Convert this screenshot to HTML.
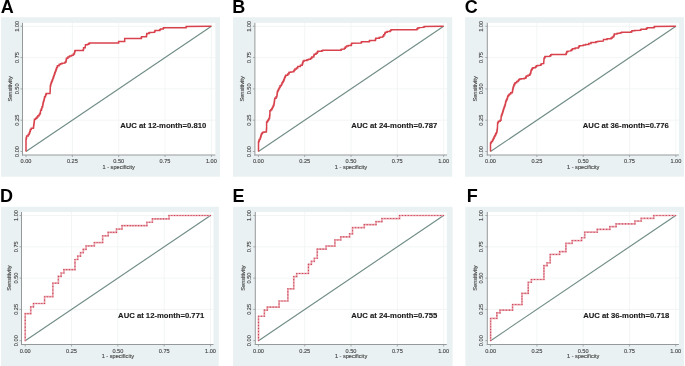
<!DOCTYPE html>
<html><head><meta charset="utf-8"><title>ROC curves</title>
<style>
html,body{margin:0;padding:0;background:#fff;}
body{width:685px;height:366px;overflow:hidden;}
svg{display:block;will-change:transform;}
.t{font-family:"Liberation Sans",sans-serif;font-size:5.6px;fill:#4a4a4a;stroke:#4a4a4a;stroke-width:0.14px;}
.auc{font-family:"Liberation Sans",sans-serif;font-size:7.7px;font-weight:bold;fill:#1a1a1a;stroke:#1a1a1a;stroke-width:0.12px;}
.L{font-family:"Liberation Sans",sans-serif;font-size:18px;font-weight:bold;fill:#000;}
</style></head><body>
<svg width="685" height="366" viewBox="0 0 685 366">
<rect x="0" y="0" width="685" height="366" fill="#ffffff"/>
<g><rect x="1.1" y="17.2" width="218.9" height="159.5" fill="#EAF1F2"/><rect x="22.5" y="22.9" width="192.8" height="132.1" fill="#ffffff"/><line x1="23" y1="120.2" x2="215.3" y2="120.2" stroke="#F0F2F2" stroke-width="0.8"/><line x1="23" y1="88.9" x2="215.3" y2="88.9" stroke="#F0F2F2" stroke-width="0.8"/><line x1="23" y1="57.6" x2="215.3" y2="57.6" stroke="#F0F2F2" stroke-width="0.8"/><line x1="23" y1="26.3" x2="215.3" y2="26.3" stroke="#F0F2F2" stroke-width="0.8"/><line x1="72.35" y1="22.9" x2="72.35" y2="154.5" stroke="#F0F2F2" stroke-width="0.8"/><line x1="118.7" y1="22.9" x2="118.7" y2="154.5" stroke="#F0F2F2" stroke-width="0.8"/><line x1="165.05" y1="22.9" x2="165.05" y2="154.5" stroke="#F0F2F2" stroke-width="0.8"/><line x1="211.4" y1="22.9" x2="211.4" y2="154.5" stroke="#F0F2F2" stroke-width="0.8"/><line x1="22.5" y1="22.9" x2="22.5" y2="155.5" stroke="#96999A" stroke-width="1"/><line x1="22" y1="155" x2="215.3" y2="155" stroke="#96999A" stroke-width="1"/><line x1="20.5" y1="151.5" x2="22.5" y2="151.5" stroke="#96999A" stroke-width="0.8"/><line x1="26" y1="155" x2="26" y2="157" stroke="#96999A" stroke-width="0.8"/><line x1="20.5" y1="120.2" x2="22.5" y2="120.2" stroke="#96999A" stroke-width="0.8"/><line x1="72.35" y1="155" x2="72.35" y2="157" stroke="#96999A" stroke-width="0.8"/><line x1="20.5" y1="88.9" x2="22.5" y2="88.9" stroke="#96999A" stroke-width="0.8"/><line x1="118.7" y1="155" x2="118.7" y2="157" stroke="#96999A" stroke-width="0.8"/><line x1="20.5" y1="57.6" x2="22.5" y2="57.6" stroke="#96999A" stroke-width="0.8"/><line x1="165.05" y1="155" x2="165.05" y2="157" stroke="#96999A" stroke-width="0.8"/><line x1="20.5" y1="26.3" x2="22.5" y2="26.3" stroke="#96999A" stroke-width="0.8"/><line x1="211.4" y1="155" x2="211.4" y2="157" stroke="#96999A" stroke-width="0.8"/><text x="26" y="163.4" text-anchor="middle" class="t">0.00</text><text transform="translate(18.5,151.5) rotate(-90)" x="0" y="0" text-anchor="middle" class="t">0.00</text><text x="72.35" y="163.4" text-anchor="middle" class="t">0.25</text><text transform="translate(18.5,120.2) rotate(-90)" x="0" y="0" text-anchor="middle" class="t">0.25</text><text x="118.7" y="163.4" text-anchor="middle" class="t">0.50</text><text transform="translate(18.5,88.9) rotate(-90)" x="0" y="0" text-anchor="middle" class="t">0.50</text><text x="165.05" y="163.4" text-anchor="middle" class="t">0.75</text><text transform="translate(18.5,57.6) rotate(-90)" x="0" y="0" text-anchor="middle" class="t">0.75</text><text x="211.4" y="163.4" text-anchor="middle" class="t">1.00</text><text transform="translate(18.5,26.3) rotate(-90)" x="0" y="0" text-anchor="middle" class="t">1.00</text><text x="118.7" y="168.6" text-anchor="middle" class="t">1 - specificity</text><text transform="translate(11.9,88.9) rotate(-90)" x="0" y="0" text-anchor="middle" class="t">Sensitivity</text><line x1="26" y1="151.5" x2="211.4" y2="26.3" stroke="#718D87" stroke-width="1.15"/><polyline points="26,151.4 26,140 26,139.22 26.3,139.22 26.3,137.68 26.6,137.68 26.6,136.9 26.6,136.1 28.2,136.1 28.2,135.3 28.2,134.55 29.2,134.55 29.2,133.8 29.2,133 29.75,133 29.75,131.4 30.3,131.4 30.3,130.6 30.3,129.6 31.3,129.6 31.3,128.6 31.3,128.3 33.4,128.3 33.4,128 33.4,127.4 33.57,127.4 33.57,126.2 33.73,126.2 33.73,125 33.9,125 33.9,124.4 33.9,123.63 34.1,123.63 34.1,122.1 34.3,122.1 34.3,120.57 34.5,120.57 34.5,119.8 34.5,119.3 35.7,119.3 35.7,118.8 35.7,118.15 36.9,118.15 36.9,117.5 36.9,116.9 37.9,116.9 37.9,116.3 37.9,115.8 39.1,115.8 39.1,115.3 39.1,114.6 39.9,114.6 39.9,113.9 39.9,113.15 40.4,113.15 40.4,112.4 40.6,110.9 40.6,110.15 41.4,110.15 41.4,109.4 41.4,108.65 41.9,108.65 41.9,107.9 41.9,107.05 42.6,107.05 42.6,106.2 42.6,105.57 42.83,105.57 42.83,104.3 43.07,104.3 43.07,103.03 43.3,103.03 43.3,102.4 43.3,101.73 43.7,101.73 43.7,100.38 44.1,100.38 44.1,99.7 44.1,99.15 44.35,99.15 44.35,98.05 44.6,98.05 44.6,97.5 44.6,96.65 45.5,96.65 45.5,95.8 45.5,95.25 45.9,95.25 45.9,94.15 46.3,94.15 46.3,93.6 46.3,93.4 50,93.4 50,93.2 50.2,90.4 50.3,87 50.3,86 50.6,86 50.6,85 50.6,84.4 51,84.4 51,83.2 51.4,83.2 51.4,82.6 51.4,82.05 51.85,82.05 51.85,80.95 52.3,80.95 52.3,80.4 52.3,79.65 52.85,79.65 52.85,78.15 53.4,78.15 53.4,77.4 53.4,76.75 53.85,76.75 53.85,75.45 54.3,75.45 54.3,74.8 54.3,74.15 54.75,74.15 54.75,72.85 55.2,72.85 55.2,72.2 55.2,71.45 55.8,71.45 55.8,70.7 55.8,70.12 56.2,70.12 56.2,68.98 56.6,68.98 56.6,68.4 56.6,67.45 57.4,67.45 57.4,66.5 57.4,65.7 59.1,65.7 59.1,64.9 59.1,64.5 60.5,64.5 60.5,64.1 60.5,63.7 62,63.7 62,63.3 64.9,63 64.9,62.3 65.9,62.3 65.9,61.6 65.9,60.88 66.2,60.88 66.2,59.43 66.5,59.43 66.5,58.7 66.5,58.2 67.9,58.2 67.9,57.7 67.9,57.05 69.5,57.05 69.5,56.4 69.5,55.9 71.5,55.9 71.5,55.4 73.4,55.1 73.4,54.1 74.4,54.1 74.4,53.1 74.4,52.45 74.75,52.45 74.75,51.15 75.1,51.15 75.1,50.5 83.2,50.5 83.2,49.5 83.6,49.5 83.6,48.5 83.6,47.7 85.2,47.7 85.2,46.9 85.5,45 85.5,44.8 87.5,44.8 87.5,44.6 87.5,44.3 88.8,44.3 88.8,44 88.8,43.55 89.5,43.55 89.5,43.1 118.6,43.1 118.6,41.5 124.7,41.5 124.7,38.6 141.2,38.6 141.2,37.7 141.5,37.7 141.5,36.8 146.4,36.8 146.4,36.1 146.6,36.1 146.6,34.7 146.8,34.7 146.8,34 146.8,33.55 149,33.55 149,33.1 149,32.75 149.6,32.75 149.6,32.4 154.5,32.2 154.5,31.5 155,31.5 155,30.8 155,30.5 159.7,30.5 159.7,30.2 159.7,29.7 160.5,29.7 160.5,29.2 160.5,29 163.2,29 163.2,28.8 163.2,28.25 163.6,28.25 163.6,27.7 186,27.7 186,27.05 186.4,27.05 186.4,26.4 211.4,26.3" fill="none" stroke="#D8424C" stroke-width="1.5" stroke-linejoin="miter"/><text x="120.2" y="128" class="auc">AUC at 12-month=0.810</text><text x="0.8" y="12.6" class="L">A</text></g>
<g><rect x="233" y="17.2" width="219.2" height="159.5" fill="#EAF1F2"/><rect x="254.9" y="22.9" width="192.1" height="132.1" fill="#ffffff"/><line x1="255.4" y1="120.2" x2="447" y2="120.2" stroke="#F0F2F2" stroke-width="0.8"/><line x1="255.4" y1="88.9" x2="447" y2="88.9" stroke="#F0F2F2" stroke-width="0.8"/><line x1="255.4" y1="57.6" x2="447" y2="57.6" stroke="#F0F2F2" stroke-width="0.8"/><line x1="255.4" y1="26.3" x2="447" y2="26.3" stroke="#F0F2F2" stroke-width="0.8"/><line x1="304.7" y1="22.9" x2="304.7" y2="154.5" stroke="#F0F2F2" stroke-width="0.8"/><line x1="351" y1="22.9" x2="351" y2="154.5" stroke="#F0F2F2" stroke-width="0.8"/><line x1="397.3" y1="22.9" x2="397.3" y2="154.5" stroke="#F0F2F2" stroke-width="0.8"/><line x1="443.6" y1="22.9" x2="443.6" y2="154.5" stroke="#F0F2F2" stroke-width="0.8"/><line x1="254.9" y1="22.9" x2="254.9" y2="155.5" stroke="#96999A" stroke-width="1"/><line x1="254.4" y1="155" x2="447" y2="155" stroke="#96999A" stroke-width="1"/><line x1="252.9" y1="151.5" x2="254.9" y2="151.5" stroke="#96999A" stroke-width="0.8"/><line x1="258.4" y1="155" x2="258.4" y2="157" stroke="#96999A" stroke-width="0.8"/><line x1="252.9" y1="120.2" x2="254.9" y2="120.2" stroke="#96999A" stroke-width="0.8"/><line x1="304.7" y1="155" x2="304.7" y2="157" stroke="#96999A" stroke-width="0.8"/><line x1="252.9" y1="88.9" x2="254.9" y2="88.9" stroke="#96999A" stroke-width="0.8"/><line x1="351" y1="155" x2="351" y2="157" stroke="#96999A" stroke-width="0.8"/><line x1="252.9" y1="57.6" x2="254.9" y2="57.6" stroke="#96999A" stroke-width="0.8"/><line x1="397.3" y1="155" x2="397.3" y2="157" stroke="#96999A" stroke-width="0.8"/><line x1="252.9" y1="26.3" x2="254.9" y2="26.3" stroke="#96999A" stroke-width="0.8"/><line x1="443.6" y1="155" x2="443.6" y2="157" stroke="#96999A" stroke-width="0.8"/><text x="258.4" y="163.4" text-anchor="middle" class="t">0.00</text><text transform="translate(250.9,151.5) rotate(-90)" x="0" y="0" text-anchor="middle" class="t">0.00</text><text x="304.7" y="163.4" text-anchor="middle" class="t">0.25</text><text transform="translate(250.9,120.2) rotate(-90)" x="0" y="0" text-anchor="middle" class="t">0.25</text><text x="351" y="163.4" text-anchor="middle" class="t">0.50</text><text transform="translate(250.9,88.9) rotate(-90)" x="0" y="0" text-anchor="middle" class="t">0.50</text><text x="397.3" y="163.4" text-anchor="middle" class="t">0.75</text><text transform="translate(250.9,57.6) rotate(-90)" x="0" y="0" text-anchor="middle" class="t">0.75</text><text x="443.6" y="163.4" text-anchor="middle" class="t">1.00</text><text transform="translate(250.9,26.3) rotate(-90)" x="0" y="0" text-anchor="middle" class="t">1.00</text><text x="351" y="168.6" text-anchor="middle" class="t">1 - specificity</text><text transform="translate(244.3,88.9) rotate(-90)" x="0" y="0" text-anchor="middle" class="t">Sensitivity</text><line x1="258.4" y1="151.5" x2="443.6" y2="26.3" stroke="#718D87" stroke-width="1.15"/><polyline points="258.5,151.4 258.5,142.6 258.5,142.03 258.85,142.03 258.85,140.88 259.2,140.88 259.2,140.3 259.2,139.6 260.1,139.6 260.1,138.9 260.1,138.32 260.45,138.32 260.45,137.18 260.8,137.18 260.8,136.6 260.8,136 261.15,136 261.15,134.8 261.5,134.8 261.5,134.2 261.5,133.75 262.2,133.75 262.2,132.85 262.9,132.85 262.9,132.4 262.9,132.15 264.3,132.15 264.3,131.9 266.3,131.9 266.3,131.28 266.4,131.28 266.4,130.05 266.5,130.05 266.5,128.82 266.6,128.82 266.6,128.2 266.6,122.6 266.6,121.9 267.5,121.9 267.5,121.2 267.5,120.75 268.2,120.75 268.2,119.85 268.9,119.85 268.9,119.4 268.9,118.55 269.5,118.55 269.5,117.7 269.5,117.12 269.63,117.12 269.63,115.95 269.77,115.95 269.77,114.78 269.9,114.78 269.9,114.2 269.9,111.2 269.9,110.75 270.8,110.75 270.8,109.85 271.7,109.85 271.7,109.4 271.7,108.75 272.35,108.75 272.35,107.45 273,107.45 273,106.8 273,106.25 273.45,106.25 273.45,105.15 273.9,105.15 273.9,104.6 273.9,104.05 274.1,104.05 274.1,102.95 274.3,102.95 274.3,102.4 274.3,101.82 274.43,101.82 274.43,100.65 274.57,100.65 274.57,99.48 274.7,99.48 274.7,98.9 274.7,98.25 276.1,98.25 276.1,97.6 276.1,96.75 276.9,96.75 276.9,95.9 276.9,95.23 277.07,95.23 277.07,93.9 277.23,93.9 277.23,92.57 277.4,92.57 277.4,91.9 277.4,91.42 277.9,91.42 277.9,90.45 278.4,90.45 278.4,89.48 278.9,89.48 278.9,89 278.9,88.4 279.5,88.4 279.5,87.2 280.1,87.2 280.1,86.6 280.1,85.8 281.3,85.8 281.3,85 281.3,84.38 281.95,84.38 281.95,83.12 282.6,83.12 282.6,82.5 282.6,81.97 283.2,81.97 283.2,80.93 283.8,80.93 283.8,80.4 283.8,79.75 284.25,79.75 284.25,78.45 284.7,78.45 284.7,77.8 284.7,77.25 285.2,77.25 285.2,76.15 285.7,76.15 285.7,75.6 285.7,75.25 287.7,75.25 287.7,74.9 287.7,74.1 288.9,74.1 288.9,73.3 288.9,72.85 289.2,72.85 289.2,72.4 289.2,72.2 290.9,72.2 290.9,72 293.2,71.9 293.2,71.45 294,71.45 294,71 294,70.2 294.9,70.2 294.9,69.4 294.9,69 296.5,69 296.5,68.6 296.5,67.95 297.7,67.95 297.7,67.3 297.7,66.55 300.4,66.55 300.4,65.8 300.4,65.2 302.2,65.2 302.2,64.6 302.2,63.92 302.65,63.92 302.65,62.57 303.1,62.57 303.1,61.9 303.1,61.3 304,61.3 304,60.7 304,60.4 307,60.4 307,60.1 307,59.8 308.5,59.8 308.5,59.5 308.5,59.2 310.6,59.2 310.6,58.9 310.6,58.15 311.8,58.15 311.8,57.4 311.8,57.1 313.6,57.1 313.6,56.8 313.6,56.27 313.9,56.27 313.9,55.23 314.2,55.23 314.2,54.7 314.2,54.25 316,54.25 316,53.8 316,53.35 317.2,53.35 317.2,52.9 317.2,52.2 317.8,52.2 317.8,51.5 317.8,51.25 321.7,51.25 321.7,51 321.7,50.65 322.6,50.65 322.6,50.3 341,50.3 341,49.8 341.4,49.8 341.4,49.3 344.4,49 344.4,48.3 345.3,48.3 345.3,47.6 345.3,47.1 346.6,47.1 346.6,46.6 346.6,46.1 348.3,46.1 348.3,45.6 348.3,45.45 351.2,45.45 351.2,45.3 351.2,44.8 351.45,44.8 351.45,43.8 351.7,43.8 351.7,43.3 361.1,43.1 361.1,42.4 361.6,42.4 361.6,41.7 369.3,41.7 369.3,41.1 369.7,41.1 369.7,40.5 375.3,40.5 375.3,40 375.55,40 375.55,39 375.8,39 375.8,38.5 375.8,38.15 379.2,38.15 379.2,37.8 379.2,37.55 380.2,37.55 380.2,37.3 382.7,37.1 382.7,36.35 383.7,36.35 383.7,35.6 383.7,34.75 384.7,34.75 384.7,33.9 384.7,33.25 385.4,33.25 385.4,32.6 385.4,32.15 387.1,32.15 387.1,31.7 387.1,31.45 390.1,31.45 390.1,31.2 390.1,30.7 390.8,30.7 390.8,30.2 390.8,29.95 391.6,29.95 391.6,29.7 416.8,29.7 416.8,29.1 417.7,29.1 417.7,28.5 417.7,28.05 419.2,28.05 419.2,27.6 423.4,27.4 423.4,26.9 424.4,26.9 424.4,26.4 443.6,26.3" fill="none" stroke="#D8424C" stroke-width="1.5" stroke-linejoin="miter"/><text x="351.2" y="128" class="auc">AUC at 24-month=0.787</text><text x="232.2" y="12.6" class="L">B</text></g>
<g><rect x="465.1" y="17.2" width="218.8" height="159.5" fill="#EAF1F2"/><rect x="487.3" y="22.9" width="191.6" height="132.1" fill="#ffffff"/><line x1="487.8" y1="120.2" x2="678.9" y2="120.2" stroke="#F0F2F2" stroke-width="0.8"/><line x1="487.8" y1="88.9" x2="678.9" y2="88.9" stroke="#F0F2F2" stroke-width="0.8"/><line x1="487.8" y1="57.6" x2="678.9" y2="57.6" stroke="#F0F2F2" stroke-width="0.8"/><line x1="487.8" y1="26.3" x2="678.9" y2="26.3" stroke="#F0F2F2" stroke-width="0.8"/><line x1="536.85" y1="22.9" x2="536.85" y2="154.5" stroke="#F0F2F2" stroke-width="0.8"/><line x1="583.2" y1="22.9" x2="583.2" y2="154.5" stroke="#F0F2F2" stroke-width="0.8"/><line x1="629.55" y1="22.9" x2="629.55" y2="154.5" stroke="#F0F2F2" stroke-width="0.8"/><line x1="675.9" y1="22.9" x2="675.9" y2="154.5" stroke="#F0F2F2" stroke-width="0.8"/><line x1="487.3" y1="22.9" x2="487.3" y2="155.5" stroke="#96999A" stroke-width="1"/><line x1="486.8" y1="155" x2="678.9" y2="155" stroke="#96999A" stroke-width="1"/><line x1="485.3" y1="151.5" x2="487.3" y2="151.5" stroke="#96999A" stroke-width="0.8"/><line x1="490.5" y1="155" x2="490.5" y2="157" stroke="#96999A" stroke-width="0.8"/><line x1="485.3" y1="120.2" x2="487.3" y2="120.2" stroke="#96999A" stroke-width="0.8"/><line x1="536.85" y1="155" x2="536.85" y2="157" stroke="#96999A" stroke-width="0.8"/><line x1="485.3" y1="88.9" x2="487.3" y2="88.9" stroke="#96999A" stroke-width="0.8"/><line x1="583.2" y1="155" x2="583.2" y2="157" stroke="#96999A" stroke-width="0.8"/><line x1="485.3" y1="57.6" x2="487.3" y2="57.6" stroke="#96999A" stroke-width="0.8"/><line x1="629.55" y1="155" x2="629.55" y2="157" stroke="#96999A" stroke-width="0.8"/><line x1="485.3" y1="26.3" x2="487.3" y2="26.3" stroke="#96999A" stroke-width="0.8"/><line x1="675.9" y1="155" x2="675.9" y2="157" stroke="#96999A" stroke-width="0.8"/><text x="490.5" y="163.4" text-anchor="middle" class="t">0.00</text><text transform="translate(483.3,151.5) rotate(-90)" x="0" y="0" text-anchor="middle" class="t">0.00</text><text x="536.85" y="163.4" text-anchor="middle" class="t">0.25</text><text transform="translate(483.3,120.2) rotate(-90)" x="0" y="0" text-anchor="middle" class="t">0.25</text><text x="583.2" y="163.4" text-anchor="middle" class="t">0.50</text><text transform="translate(483.3,88.9) rotate(-90)" x="0" y="0" text-anchor="middle" class="t">0.50</text><text x="629.55" y="163.4" text-anchor="middle" class="t">0.75</text><text transform="translate(483.3,57.6) rotate(-90)" x="0" y="0" text-anchor="middle" class="t">0.75</text><text x="675.9" y="163.4" text-anchor="middle" class="t">1.00</text><text transform="translate(483.3,26.3) rotate(-90)" x="0" y="0" text-anchor="middle" class="t">1.00</text><text x="583.2" y="168.6" text-anchor="middle" class="t">1 - specificity</text><text transform="translate(476.7,88.9) rotate(-90)" x="0" y="0" text-anchor="middle" class="t">Sensitivity</text><line x1="490.5" y1="151.5" x2="675.9" y2="26.3" stroke="#718D87" stroke-width="1.15"/><polyline points="490.5,151.4 490.5,143.6 490.5,143.2 490.95,143.2 490.95,142.4 491.4,142.4 491.4,142 491.4,141.45 492.5,141.45 492.5,140.9 492.5,140.35 493,140.35 493,139.25 493.5,139.25 493.5,138.7 493.5,138.15 494.05,138.15 494.05,137.05 494.6,137.05 494.6,136.5 494.6,135.97 495.15,135.97 495.15,134.93 495.7,134.93 495.7,134.4 495.7,133.85 496.25,133.85 496.25,132.75 496.8,132.75 496.8,132.2 496.8,131.72 496.95,131.72 496.95,130.78 497.1,130.78 497.1,129.82 497.25,129.82 497.25,128.88 497.4,128.88 497.4,128.4 497.6,123.5 497.6,123.08 498.05,123.08 498.05,122.22 498.5,122.22 498.5,121.8 498.5,121.25 500.1,121.25 500.1,120.7 500.1,120.15 501,120.15 501,119.6 501.2,116.4 501.2,115.93 501.57,115.93 501.57,115 501.93,115 501.93,114.07 502.3,114.07 502.3,113.6 502.3,113.2 502.55,113.2 502.55,112.4 502.8,112.4 502.8,112 502.8,111.55 503.05,111.55 503.05,110.65 503.3,110.65 503.3,110.2 503.3,109.8 503.57,109.8 503.57,109 503.83,109 503.83,108.2 504.1,108.2 504.1,107.8 504.1,107.25 504.5,107.25 504.5,106.15 504.9,106.15 504.9,105.05 505.3,105.05 505.3,104.5 505.3,104.08 505.43,104.08 505.43,103.25 505.57,103.25 505.57,102.42 505.7,102.42 505.7,102 505.7,101.54 506.12,101.54 506.12,100.61 506.55,100.61 506.55,99.69 506.97,99.69 506.97,98.76 507.4,98.76 507.4,98.3 507.4,97.8 507.6,97.8 507.6,96.8 507.8,96.8 507.8,96.3 507.8,95.9 508.6,95.9 508.6,95.1 509.4,95.1 509.4,94.7 509.4,94.05 510.7,94.05 510.7,93.4 510.7,92.8 512.3,92.8 512.3,92.2 512.3,91.67 512.5,91.67 512.5,90.62 512.7,90.62 512.7,90.1 512.7,89.6 512.9,89.6 512.9,88.6 513.1,88.6 513.1,88.1 513.1,87.67 513.37,87.67 513.37,86.8 513.63,86.8 513.63,85.93 513.9,85.93 513.9,85.5 513.9,84.95 514.5,84.95 514.5,83.85 515.1,83.85 515.1,83.3 515.1,82.75 516.6,82.75 516.6,82.2 516.6,81.6 518.1,81.6 518.1,81 518.1,80.53 518.9,80.53 518.9,79.57 519.7,79.57 519.7,79.1 519.7,78.9 521.2,78.9 521.2,78.7 524.2,78.7 524.2,78.15 525.8,78.15 525.8,77.6 525.8,77.22 526.15,77.22 526.15,76.47 526.5,76.47 526.5,76.1 526.5,75.9 528.1,75.9 528.1,75.7 528.1,75.3 529.6,75.3 529.6,74.9 529.6,74.43 530.15,74.43 530.15,73.47 530.7,73.47 530.7,73 530.7,72.42 530.9,72.42 530.9,71.28 531.1,71.28 531.1,70.7 531.1,70.22 531.7,70.22 531.7,69.28 532.3,69.28 532.3,68.8 532.3,68.25 533,68.25 533,67.7 535.3,67.7 535.3,67.3 535.9,67.3 535.9,66.5 536.5,66.5 536.5,66.1 536.5,65.75 537.6,65.75 537.6,65.4 540.7,65.3 540.7,64.92 541,64.92 541,64.17 541.3,64.17 541.3,63.8 543.7,63.5 544,59 544,58.58 544.4,58.58 544.4,57.75 544.8,57.75 544.8,56.92 545.2,56.92 545.2,56.5 550,56.2 550,55.75 550.8,55.75 550.8,54.85 551.6,54.85 551.6,54.4 566,54.4 566,53.98 566.3,53.98 566.3,53.15 566.6,53.15 566.6,52.32 566.9,52.32 566.9,51.9 566.9,51.5 568.1,51.5 568.1,51.1 570.7,50.9 570.7,50.5 571.55,50.5 571.55,49.7 572.4,49.7 572.4,49.3 572.4,48.75 575.1,48.75 575.1,48.2 575.1,48.05 578.4,48.05 578.4,47.9 578.4,47.35 578.95,47.35 578.95,46.25 579.5,46.25 579.5,45.7 583.3,45.5 583.3,45.1 585.5,45.1 585.5,44.7 585.5,44.4 588.8,44.4 588.8,44.1 588.8,43.4 591,43.4 591,42.7 591,42.45 595.9,42.45 595.9,42.2 595.9,41.8 597.5,41.8 597.5,41.4 603.2,41.1 603.5,39.8 603.5,39.5 607,39.5 607,39.2 607,38.75 611.1,38.75 611.1,38.3 611.1,37.88 612.3,37.88 612.3,37.02 613.5,37.02 613.5,36.6 613.5,36.15 613.9,36.15 613.9,35.25 614.3,35.25 614.3,34.8 614.3,34.1 617,34.1 617,33.4 620.5,33.1 620.5,32.65 621.6,32.65 621.6,32.2 631,32.2 631,31.75 631.9,31.75 631.9,31.3 631.9,30.85 634.5,30.85 634.5,30.4 640.5,30.3 640.5,29.8 641.1,29.8 641.1,29.3 641.1,29.15 646.3,29.15 646.3,29 646.3,28.5 647.2,28.5 647.2,28 647.2,27.7 654,27.7 654,27.4 654,26.9 654.6,26.9 654.6,26.4 675.9,26.3" fill="none" stroke="#D8424C" stroke-width="1.5" stroke-linejoin="miter"/><text x="582.8" y="128" class="auc">AUC at 36-month=0.776</text><text x="464.7" y="12.6" class="L">C</text></g>
<g><rect x="1.1" y="206.8" width="217.7" height="160" fill="#EAF1F2"/><rect x="21.5" y="212" width="192" height="132.5" fill="#ffffff"/><line x1="22" y1="309.4" x2="213.5" y2="309.4" stroke="#F0F2F2" stroke-width="0.8"/><line x1="22" y1="278.1" x2="213.5" y2="278.1" stroke="#F0F2F2" stroke-width="0.8"/><line x1="22" y1="246.8" x2="213.5" y2="246.8" stroke="#F0F2F2" stroke-width="0.8"/><line x1="22" y1="215.5" x2="213.5" y2="215.5" stroke="#F0F2F2" stroke-width="0.8"/><line x1="71.53" y1="212" x2="71.53" y2="344" stroke="#F0F2F2" stroke-width="0.8"/><line x1="117.85" y1="212" x2="117.85" y2="344" stroke="#F0F2F2" stroke-width="0.8"/><line x1="164.18" y1="212" x2="164.18" y2="344" stroke="#F0F2F2" stroke-width="0.8"/><line x1="210.5" y1="212" x2="210.5" y2="344" stroke="#F0F2F2" stroke-width="0.8"/><line x1="21.5" y1="212" x2="21.5" y2="345" stroke="#96999A" stroke-width="1"/><line x1="21" y1="344.5" x2="213.5" y2="344.5" stroke="#96999A" stroke-width="1"/><line x1="19.5" y1="340.7" x2="21.5" y2="340.7" stroke="#96999A" stroke-width="0.8"/><line x1="25.2" y1="344.5" x2="25.2" y2="346.5" stroke="#96999A" stroke-width="0.8"/><line x1="19.5" y1="309.4" x2="21.5" y2="309.4" stroke="#96999A" stroke-width="0.8"/><line x1="71.53" y1="344.5" x2="71.53" y2="346.5" stroke="#96999A" stroke-width="0.8"/><line x1="19.5" y1="278.1" x2="21.5" y2="278.1" stroke="#96999A" stroke-width="0.8"/><line x1="117.85" y1="344.5" x2="117.85" y2="346.5" stroke="#96999A" stroke-width="0.8"/><line x1="19.5" y1="246.8" x2="21.5" y2="246.8" stroke="#96999A" stroke-width="0.8"/><line x1="164.18" y1="344.5" x2="164.18" y2="346.5" stroke="#96999A" stroke-width="0.8"/><line x1="19.5" y1="215.5" x2="21.5" y2="215.5" stroke="#96999A" stroke-width="0.8"/><line x1="210.5" y1="344.5" x2="210.5" y2="346.5" stroke="#96999A" stroke-width="0.8"/><text x="25.2" y="352.7" text-anchor="middle" class="t">0.00</text><text transform="translate(17.5,340.7) rotate(-90)" x="0" y="0" text-anchor="middle" class="t">0.00</text><text x="71.53" y="352.7" text-anchor="middle" class="t">0.25</text><text transform="translate(17.5,309.4) rotate(-90)" x="0" y="0" text-anchor="middle" class="t">0.25</text><text x="117.85" y="352.7" text-anchor="middle" class="t">0.50</text><text transform="translate(17.5,278.1) rotate(-90)" x="0" y="0" text-anchor="middle" class="t">0.50</text><text x="164.18" y="352.7" text-anchor="middle" class="t">0.75</text><text transform="translate(17.5,246.8) rotate(-90)" x="0" y="0" text-anchor="middle" class="t">0.75</text><text x="210.5" y="352.7" text-anchor="middle" class="t">1.00</text><text transform="translate(17.5,215.5) rotate(-90)" x="0" y="0" text-anchor="middle" class="t">1.00</text><text x="117.85" y="358" text-anchor="middle" class="t">1 - specificity</text><text transform="translate(10.9,278.1) rotate(-90)" x="0" y="0" text-anchor="middle" class="t">Sensitivity</text><line x1="25.2" y1="340.7" x2="210.5" y2="215.5" stroke="#718D87" stroke-width="1.15"/><polyline points="25.2,340.7 25.2,313.63 30.73,313.63 30.73,306.86 33.5,306.86 33.5,303.48 44.56,303.48 44.56,296.71 52.86,296.71 52.86,283.18 58.39,283.18 58.39,276.41 61.15,276.41 61.15,273.02 63.92,273.02 63.92,269.64 74.98,269.64 74.98,259.49 77.75,259.49 77.75,256.11 80.51,256.11 80.51,252.72 83.28,252.72 83.28,249.34 86.04,249.34 86.04,245.95 94.34,245.95 94.34,242.57 102.64,242.57 102.64,235.8 108.17,235.8 108.17,232.42 116.47,232.42 116.47,229.04 122,229.04 122,225.65 146.89,225.65 146.89,222.27 152.42,222.27 152.42,218.88 169.01,218.88 169.01,215.5 210.5,215.5" fill="none" stroke="#E9A3AD" stroke-width="1.7" stroke-linejoin="miter"/><path d="M24.65,340.15h1.1v1.1h-1.1zM24.65,336.77h1.1v1.1h-1.1zM24.65,333.38h1.1v1.1h-1.1zM24.65,330h1.1v1.1h-1.1zM24.65,326.61h1.1v1.1h-1.1zM24.65,323.23h1.1v1.1h-1.1zM24.65,319.85h1.1v1.1h-1.1zM24.65,316.46h1.1v1.1h-1.1zM24.65,313.08h1.1v1.1h-1.1zM27.42,313.08h1.1v1.1h-1.1zM30.18,313.08h1.1v1.1h-1.1zM30.18,309.7h1.1v1.1h-1.1zM30.18,306.31h1.1v1.1h-1.1zM32.95,306.31h1.1v1.1h-1.1zM32.95,302.93h1.1v1.1h-1.1zM35.71,302.93h1.1v1.1h-1.1zM38.48,302.93h1.1v1.1h-1.1zM41.24,302.93h1.1v1.1h-1.1zM44.01,302.93h1.1v1.1h-1.1zM44.01,299.54h1.1v1.1h-1.1zM44.01,296.16h1.1v1.1h-1.1zM46.78,296.16h1.1v1.1h-1.1zM49.54,296.16h1.1v1.1h-1.1zM52.31,296.16h1.1v1.1h-1.1zM52.31,292.78h1.1v1.1h-1.1zM52.31,289.39h1.1v1.1h-1.1zM52.31,286.01h1.1v1.1h-1.1zM52.31,282.63h1.1v1.1h-1.1zM55.07,282.63h1.1v1.1h-1.1zM57.84,282.63h1.1v1.1h-1.1zM57.84,279.24h1.1v1.1h-1.1zM57.84,275.86h1.1v1.1h-1.1zM60.6,275.86h1.1v1.1h-1.1zM60.6,272.47h1.1v1.1h-1.1zM63.37,272.47h1.1v1.1h-1.1zM63.37,269.09h1.1v1.1h-1.1zM66.14,269.09h1.1v1.1h-1.1zM68.9,269.09h1.1v1.1h-1.1zM71.67,269.09h1.1v1.1h-1.1zM74.43,269.09h1.1v1.1h-1.1zM74.43,265.71h1.1v1.1h-1.1zM74.43,262.32h1.1v1.1h-1.1zM74.43,258.94h1.1v1.1h-1.1zM77.2,258.94h1.1v1.1h-1.1zM77.2,255.56h1.1v1.1h-1.1zM79.96,255.56h1.1v1.1h-1.1zM79.96,252.17h1.1v1.1h-1.1zM82.73,252.17h1.1v1.1h-1.1zM82.73,248.79h1.1v1.1h-1.1zM85.49,248.79h1.1v1.1h-1.1zM85.49,245.4h1.1v1.1h-1.1zM88.26,245.4h1.1v1.1h-1.1zM91.03,245.4h1.1v1.1h-1.1zM93.79,245.4h1.1v1.1h-1.1zM93.79,242.02h1.1v1.1h-1.1zM96.56,242.02h1.1v1.1h-1.1zM99.32,242.02h1.1v1.1h-1.1zM102.09,242.02h1.1v1.1h-1.1zM102.09,238.64h1.1v1.1h-1.1zM102.09,235.25h1.1v1.1h-1.1zM104.85,235.25h1.1v1.1h-1.1zM107.62,235.25h1.1v1.1h-1.1zM107.62,231.87h1.1v1.1h-1.1zM110.39,231.87h1.1v1.1h-1.1zM113.15,231.87h1.1v1.1h-1.1zM115.92,231.87h1.1v1.1h-1.1zM115.92,228.49h1.1v1.1h-1.1zM118.68,228.49h1.1v1.1h-1.1zM121.45,228.49h1.1v1.1h-1.1zM121.45,225.1h1.1v1.1h-1.1zM124.21,225.1h1.1v1.1h-1.1zM126.98,225.1h1.1v1.1h-1.1zM129.75,225.1h1.1v1.1h-1.1zM132.51,225.1h1.1v1.1h-1.1zM135.28,225.1h1.1v1.1h-1.1zM138.04,225.1h1.1v1.1h-1.1zM140.81,225.1h1.1v1.1h-1.1zM143.57,225.1h1.1v1.1h-1.1zM146.34,225.1h1.1v1.1h-1.1zM146.34,221.72h1.1v1.1h-1.1zM149.11,221.72h1.1v1.1h-1.1zM151.87,221.72h1.1v1.1h-1.1zM151.87,218.33h1.1v1.1h-1.1zM154.64,218.33h1.1v1.1h-1.1zM157.4,218.33h1.1v1.1h-1.1zM160.17,218.33h1.1v1.1h-1.1zM162.93,218.33h1.1v1.1h-1.1zM165.7,218.33h1.1v1.1h-1.1zM168.46,218.33h1.1v1.1h-1.1zM168.46,214.95h1.1v1.1h-1.1zM171.23,214.95h1.1v1.1h-1.1zM174,214.95h1.1v1.1h-1.1zM176.76,214.95h1.1v1.1h-1.1zM179.53,214.95h1.1v1.1h-1.1zM182.29,214.95h1.1v1.1h-1.1zM185.06,214.95h1.1v1.1h-1.1zM187.82,214.95h1.1v1.1h-1.1zM190.59,214.95h1.1v1.1h-1.1zM193.36,214.95h1.1v1.1h-1.1zM196.12,214.95h1.1v1.1h-1.1zM198.89,214.95h1.1v1.1h-1.1zM201.65,214.95h1.1v1.1h-1.1zM204.42,214.95h1.1v1.1h-1.1zM207.18,214.95h1.1v1.1h-1.1zM209.95,214.95h1.1v1.1h-1.1z" fill="#CC4557"/><text x="118.1" y="317.9" class="auc">AUC at 12-month=0.771</text><text x="0.1" y="201.5" class="L">D</text></g>
<g><rect x="233.1" y="206.8" width="219.5" height="160" fill="#EAF1F2"/><rect x="255.3" y="212" width="191.5" height="132.5" fill="#ffffff"/><line x1="255.8" y1="309.4" x2="446.8" y2="309.4" stroke="#F0F2F2" stroke-width="0.8"/><line x1="255.8" y1="278.1" x2="446.8" y2="278.1" stroke="#F0F2F2" stroke-width="0.8"/><line x1="255.8" y1="246.8" x2="446.8" y2="246.8" stroke="#F0F2F2" stroke-width="0.8"/><line x1="255.8" y1="215.5" x2="446.8" y2="215.5" stroke="#F0F2F2" stroke-width="0.8"/><line x1="304.77" y1="212" x2="304.77" y2="344" stroke="#F0F2F2" stroke-width="0.8"/><line x1="351.05" y1="212" x2="351.05" y2="344" stroke="#F0F2F2" stroke-width="0.8"/><line x1="397.33" y1="212" x2="397.33" y2="344" stroke="#F0F2F2" stroke-width="0.8"/><line x1="443.6" y1="212" x2="443.6" y2="344" stroke="#F0F2F2" stroke-width="0.8"/><line x1="255.3" y1="212" x2="255.3" y2="345" stroke="#96999A" stroke-width="1"/><line x1="254.8" y1="344.5" x2="446.8" y2="344.5" stroke="#96999A" stroke-width="1"/><line x1="253.3" y1="340.7" x2="255.3" y2="340.7" stroke="#96999A" stroke-width="0.8"/><line x1="258.5" y1="344.5" x2="258.5" y2="346.5" stroke="#96999A" stroke-width="0.8"/><line x1="253.3" y1="309.4" x2="255.3" y2="309.4" stroke="#96999A" stroke-width="0.8"/><line x1="304.77" y1="344.5" x2="304.77" y2="346.5" stroke="#96999A" stroke-width="0.8"/><line x1="253.3" y1="278.1" x2="255.3" y2="278.1" stroke="#96999A" stroke-width="0.8"/><line x1="351.05" y1="344.5" x2="351.05" y2="346.5" stroke="#96999A" stroke-width="0.8"/><line x1="253.3" y1="246.8" x2="255.3" y2="246.8" stroke="#96999A" stroke-width="0.8"/><line x1="397.33" y1="344.5" x2="397.33" y2="346.5" stroke="#96999A" stroke-width="0.8"/><line x1="253.3" y1="215.5" x2="255.3" y2="215.5" stroke="#96999A" stroke-width="0.8"/><line x1="443.6" y1="344.5" x2="443.6" y2="346.5" stroke="#96999A" stroke-width="0.8"/><text x="258.5" y="352.7" text-anchor="middle" class="t">0.00</text><text transform="translate(251.3,340.7) rotate(-90)" x="0" y="0" text-anchor="middle" class="t">0.00</text><text x="304.77" y="352.7" text-anchor="middle" class="t">0.25</text><text transform="translate(251.3,309.4) rotate(-90)" x="0" y="0" text-anchor="middle" class="t">0.25</text><text x="351.05" y="352.7" text-anchor="middle" class="t">0.50</text><text transform="translate(251.3,278.1) rotate(-90)" x="0" y="0" text-anchor="middle" class="t">0.50</text><text x="397.33" y="352.7" text-anchor="middle" class="t">0.75</text><text transform="translate(251.3,246.8) rotate(-90)" x="0" y="0" text-anchor="middle" class="t">0.75</text><text x="443.6" y="352.7" text-anchor="middle" class="t">1.00</text><text transform="translate(251.3,215.5) rotate(-90)" x="0" y="0" text-anchor="middle" class="t">1.00</text><text x="351.05" y="358" text-anchor="middle" class="t">1 - specificity</text><text transform="translate(244.7,278.1) rotate(-90)" x="0" y="0" text-anchor="middle" class="t">Sensitivity</text><line x1="258.5" y1="340.7" x2="443.6" y2="215.5" stroke="#718D87" stroke-width="1.15"/><polyline points="258.5,340.7 258.5,316.27 264.38,316.27 264.38,310.16 267.31,310.16 267.31,307.11 279.07,307.11 279.07,301 287.88,301 287.88,288.79 293.76,288.79 293.76,276.57 296.7,276.57 296.7,273.52 308.45,273.52 308.45,264.36 311.39,264.36 311.39,261.3 314.32,261.3 314.32,258.25 317.26,258.25 317.26,249.09 326.08,249.09 326.08,246.04 334.89,246.04 334.89,239.93 340.77,239.93 340.77,236.88 349.58,236.88 349.58,233.82 352.52,233.82 352.52,227.71 364.27,227.71 364.27,224.66 376.02,224.66 376.02,221.61 381.9,221.61 381.9,218.55 399.53,218.55 399.53,215.5 443.6,215.5" fill="none" stroke="#E9A3AD" stroke-width="1.7" stroke-linejoin="miter"/><path d="M257.95,340.15h1.1v1.1h-1.1zM257.95,337.1h1.1v1.1h-1.1zM257.95,334.04h1.1v1.1h-1.1zM257.95,330.99h1.1v1.1h-1.1zM257.95,327.94h1.1v1.1h-1.1zM257.95,324.88h1.1v1.1h-1.1zM257.95,321.83h1.1v1.1h-1.1zM257.95,318.77h1.1v1.1h-1.1zM257.95,315.72h1.1v1.1h-1.1zM260.89,315.72h1.1v1.1h-1.1zM263.83,315.72h1.1v1.1h-1.1zM263.83,312.67h1.1v1.1h-1.1zM263.83,309.61h1.1v1.1h-1.1zM266.76,309.61h1.1v1.1h-1.1zM266.76,306.56h1.1v1.1h-1.1zM269.7,306.56h1.1v1.1h-1.1zM272.64,306.56h1.1v1.1h-1.1zM275.58,306.56h1.1v1.1h-1.1zM278.52,306.56h1.1v1.1h-1.1zM278.52,303.51h1.1v1.1h-1.1zM278.52,300.45h1.1v1.1h-1.1zM281.45,300.45h1.1v1.1h-1.1zM284.39,300.45h1.1v1.1h-1.1zM287.33,300.45h1.1v1.1h-1.1zM287.33,297.4h1.1v1.1h-1.1zM287.33,294.35h1.1v1.1h-1.1zM287.33,291.29h1.1v1.1h-1.1zM287.33,288.24h1.1v1.1h-1.1zM290.27,288.24h1.1v1.1h-1.1zM293.21,288.24h1.1v1.1h-1.1zM293.21,285.18h1.1v1.1h-1.1zM293.21,282.13h1.1v1.1h-1.1zM293.21,279.08h1.1v1.1h-1.1zM293.21,276.02h1.1v1.1h-1.1zM296.15,276.02h1.1v1.1h-1.1zM296.15,272.97h1.1v1.1h-1.1zM299.08,272.97h1.1v1.1h-1.1zM302.02,272.97h1.1v1.1h-1.1zM304.96,272.97h1.1v1.1h-1.1zM307.9,272.97h1.1v1.1h-1.1zM307.9,269.92h1.1v1.1h-1.1zM307.9,266.86h1.1v1.1h-1.1zM307.9,263.81h1.1v1.1h-1.1zM310.84,263.81h1.1v1.1h-1.1zM310.84,260.75h1.1v1.1h-1.1zM313.77,260.75h1.1v1.1h-1.1zM313.77,257.7h1.1v1.1h-1.1zM316.71,257.7h1.1v1.1h-1.1zM316.71,254.65h1.1v1.1h-1.1zM316.71,251.59h1.1v1.1h-1.1zM316.71,248.54h1.1v1.1h-1.1zM319.65,248.54h1.1v1.1h-1.1zM322.59,248.54h1.1v1.1h-1.1zM325.53,248.54h1.1v1.1h-1.1zM325.53,245.49h1.1v1.1h-1.1zM328.46,245.49h1.1v1.1h-1.1zM331.4,245.49h1.1v1.1h-1.1zM334.34,245.49h1.1v1.1h-1.1zM334.34,242.43h1.1v1.1h-1.1zM334.34,239.38h1.1v1.1h-1.1zM337.28,239.38h1.1v1.1h-1.1zM340.22,239.38h1.1v1.1h-1.1zM340.22,236.33h1.1v1.1h-1.1zM343.15,236.33h1.1v1.1h-1.1zM346.09,236.33h1.1v1.1h-1.1zM349.03,236.33h1.1v1.1h-1.1zM349.03,233.27h1.1v1.1h-1.1zM351.97,233.27h1.1v1.1h-1.1zM351.97,230.22h1.1v1.1h-1.1zM351.97,227.16h1.1v1.1h-1.1zM354.91,227.16h1.1v1.1h-1.1zM357.85,227.16h1.1v1.1h-1.1zM360.78,227.16h1.1v1.1h-1.1zM363.72,227.16h1.1v1.1h-1.1zM363.72,224.11h1.1v1.1h-1.1zM366.66,224.11h1.1v1.1h-1.1zM369.6,224.11h1.1v1.1h-1.1zM372.54,224.11h1.1v1.1h-1.1zM375.47,224.11h1.1v1.1h-1.1zM375.47,221.06h1.1v1.1h-1.1zM378.41,221.06h1.1v1.1h-1.1zM381.35,221.06h1.1v1.1h-1.1zM381.35,218h1.1v1.1h-1.1zM384.29,218h1.1v1.1h-1.1zM387.23,218h1.1v1.1h-1.1zM390.16,218h1.1v1.1h-1.1zM393.1,218h1.1v1.1h-1.1zM396.04,218h1.1v1.1h-1.1zM398.98,218h1.1v1.1h-1.1zM398.98,214.95h1.1v1.1h-1.1zM401.92,214.95h1.1v1.1h-1.1zM404.85,214.95h1.1v1.1h-1.1zM407.79,214.95h1.1v1.1h-1.1zM410.73,214.95h1.1v1.1h-1.1zM413.67,214.95h1.1v1.1h-1.1zM416.61,214.95h1.1v1.1h-1.1zM419.55,214.95h1.1v1.1h-1.1zM422.48,214.95h1.1v1.1h-1.1zM425.42,214.95h1.1v1.1h-1.1zM428.36,214.95h1.1v1.1h-1.1zM431.3,214.95h1.1v1.1h-1.1zM434.24,214.95h1.1v1.1h-1.1zM437.17,214.95h1.1v1.1h-1.1zM440.11,214.95h1.1v1.1h-1.1zM443.05,214.95h1.1v1.1h-1.1z" fill="#CC4557"/><text x="351.2" y="317.9" class="auc">AUC at 24-month=0.755</text><text x="232.5" y="201.5" class="L">E</text></g>
<g><rect x="465.4" y="206.8" width="218.5" height="160" fill="#EAF1F2"/><rect x="487.3" y="212" width="191.6" height="132.5" fill="#ffffff"/><line x1="487.8" y1="309.4" x2="678.9" y2="309.4" stroke="#F0F2F2" stroke-width="0.8"/><line x1="487.8" y1="278.1" x2="678.9" y2="278.1" stroke="#F0F2F2" stroke-width="0.8"/><line x1="487.8" y1="246.8" x2="678.9" y2="246.8" stroke="#F0F2F2" stroke-width="0.8"/><line x1="487.8" y1="215.5" x2="678.9" y2="215.5" stroke="#F0F2F2" stroke-width="0.8"/><line x1="536.88" y1="212" x2="536.88" y2="344" stroke="#F0F2F2" stroke-width="0.8"/><line x1="583.15" y1="212" x2="583.15" y2="344" stroke="#F0F2F2" stroke-width="0.8"/><line x1="629.43" y1="212" x2="629.43" y2="344" stroke="#F0F2F2" stroke-width="0.8"/><line x1="675.7" y1="212" x2="675.7" y2="344" stroke="#F0F2F2" stroke-width="0.8"/><line x1="487.3" y1="212" x2="487.3" y2="345" stroke="#96999A" stroke-width="1"/><line x1="486.8" y1="344.5" x2="678.9" y2="344.5" stroke="#96999A" stroke-width="1"/><line x1="485.3" y1="340.7" x2="487.3" y2="340.7" stroke="#96999A" stroke-width="0.8"/><line x1="490.6" y1="344.5" x2="490.6" y2="346.5" stroke="#96999A" stroke-width="0.8"/><line x1="485.3" y1="309.4" x2="487.3" y2="309.4" stroke="#96999A" stroke-width="0.8"/><line x1="536.88" y1="344.5" x2="536.88" y2="346.5" stroke="#96999A" stroke-width="0.8"/><line x1="485.3" y1="278.1" x2="487.3" y2="278.1" stroke="#96999A" stroke-width="0.8"/><line x1="583.15" y1="344.5" x2="583.15" y2="346.5" stroke="#96999A" stroke-width="0.8"/><line x1="485.3" y1="246.8" x2="487.3" y2="246.8" stroke="#96999A" stroke-width="0.8"/><line x1="629.43" y1="344.5" x2="629.43" y2="346.5" stroke="#96999A" stroke-width="0.8"/><line x1="485.3" y1="215.5" x2="487.3" y2="215.5" stroke="#96999A" stroke-width="0.8"/><line x1="675.7" y1="344.5" x2="675.7" y2="346.5" stroke="#96999A" stroke-width="0.8"/><text x="490.6" y="352.7" text-anchor="middle" class="t">0.00</text><text transform="translate(483.3,340.7) rotate(-90)" x="0" y="0" text-anchor="middle" class="t">0.00</text><text x="536.88" y="352.7" text-anchor="middle" class="t">0.25</text><text transform="translate(483.3,309.4) rotate(-90)" x="0" y="0" text-anchor="middle" class="t">0.25</text><text x="583.15" y="352.7" text-anchor="middle" class="t">0.50</text><text transform="translate(483.3,278.1) rotate(-90)" x="0" y="0" text-anchor="middle" class="t">0.50</text><text x="629.43" y="352.7" text-anchor="middle" class="t">0.75</text><text transform="translate(483.3,246.8) rotate(-90)" x="0" y="0" text-anchor="middle" class="t">0.75</text><text x="675.7" y="352.7" text-anchor="middle" class="t">1.00</text><text transform="translate(483.3,215.5) rotate(-90)" x="0" y="0" text-anchor="middle" class="t">1.00</text><text x="583.15" y="358" text-anchor="middle" class="t">1 - specificity</text><text transform="translate(476.7,278.1) rotate(-90)" x="0" y="0" text-anchor="middle" class="t">Sensitivity</text><line x1="490.6" y1="340.7" x2="675.7" y2="215.5" stroke="#718D87" stroke-width="1.15"/><polyline points="490.6,340.7 490.6,318.44 496.87,318.44 496.87,312.88 500.01,312.88 500.01,310.1 512.56,310.1 512.56,304.53 521.97,304.53 521.97,293.4 528.25,293.4 528.25,282.27 531.38,282.27 531.38,279.49 543.93,279.49 543.93,265.58 547.07,265.58 547.07,262.8 550.21,262.8 550.21,254.45 559.62,254.45 559.62,251.67 565.89,251.67 565.89,243.32 572.17,243.32 572.17,240.54 581.58,240.54 581.58,237.76 584.72,237.76 584.72,232.19 597.27,232.19 597.27,229.41 609.82,229.41 609.82,226.63 616.09,226.63 616.09,223.85 634.92,223.85 634.92,221.06 641.19,221.06 641.19,218.28 653.74,218.28 653.74,215.5 675.7,215.5" fill="none" stroke="#E9A3AD" stroke-width="1.7" stroke-linejoin="miter"/><path d="M490.05,340.15h1.1v1.1h-1.1zM490.05,337.37h1.1v1.1h-1.1zM490.05,334.59h1.1v1.1h-1.1zM490.05,331.8h1.1v1.1h-1.1zM490.05,329.02h1.1v1.1h-1.1zM490.05,326.24h1.1v1.1h-1.1zM490.05,323.46h1.1v1.1h-1.1zM490.05,320.67h1.1v1.1h-1.1zM490.05,317.89h1.1v1.1h-1.1zM493.19,317.89h1.1v1.1h-1.1zM496.32,317.89h1.1v1.1h-1.1zM496.32,315.11h1.1v1.1h-1.1zM496.32,312.33h1.1v1.1h-1.1zM499.46,312.33h1.1v1.1h-1.1zM499.46,309.55h1.1v1.1h-1.1zM502.6,309.55h1.1v1.1h-1.1zM505.74,309.55h1.1v1.1h-1.1zM508.87,309.55h1.1v1.1h-1.1zM512.01,309.55h1.1v1.1h-1.1zM512.01,306.76h1.1v1.1h-1.1zM512.01,303.98h1.1v1.1h-1.1zM515.15,303.98h1.1v1.1h-1.1zM518.29,303.98h1.1v1.1h-1.1zM521.42,303.98h1.1v1.1h-1.1zM521.42,301.2h1.1v1.1h-1.1zM521.42,298.42h1.1v1.1h-1.1zM521.42,295.63h1.1v1.1h-1.1zM521.42,292.85h1.1v1.1h-1.1zM524.56,292.85h1.1v1.1h-1.1zM527.7,292.85h1.1v1.1h-1.1zM527.7,290.07h1.1v1.1h-1.1zM527.7,287.29h1.1v1.1h-1.1zM527.7,284.51h1.1v1.1h-1.1zM527.7,281.72h1.1v1.1h-1.1zM530.83,281.72h1.1v1.1h-1.1zM530.83,278.94h1.1v1.1h-1.1zM533.97,278.94h1.1v1.1h-1.1zM537.11,278.94h1.1v1.1h-1.1zM540.25,278.94h1.1v1.1h-1.1zM543.38,278.94h1.1v1.1h-1.1zM543.38,276.16h1.1v1.1h-1.1zM543.38,273.38h1.1v1.1h-1.1zM543.38,270.59h1.1v1.1h-1.1zM543.38,267.81h1.1v1.1h-1.1zM543.38,265.03h1.1v1.1h-1.1zM546.52,265.03h1.1v1.1h-1.1zM546.52,262.25h1.1v1.1h-1.1zM549.66,262.25h1.1v1.1h-1.1zM549.66,259.47h1.1v1.1h-1.1zM549.66,256.68h1.1v1.1h-1.1zM549.66,253.9h1.1v1.1h-1.1zM552.8,253.9h1.1v1.1h-1.1zM555.93,253.9h1.1v1.1h-1.1zM559.07,253.9h1.1v1.1h-1.1zM559.07,251.12h1.1v1.1h-1.1zM562.21,251.12h1.1v1.1h-1.1zM565.34,251.12h1.1v1.1h-1.1zM565.34,248.34h1.1v1.1h-1.1zM565.34,245.55h1.1v1.1h-1.1zM565.34,242.77h1.1v1.1h-1.1zM568.48,242.77h1.1v1.1h-1.1zM571.62,242.77h1.1v1.1h-1.1zM571.62,239.99h1.1v1.1h-1.1zM574.76,239.99h1.1v1.1h-1.1zM577.89,239.99h1.1v1.1h-1.1zM581.03,239.99h1.1v1.1h-1.1zM581.03,237.21h1.1v1.1h-1.1zM584.17,237.21h1.1v1.1h-1.1zM584.17,234.43h1.1v1.1h-1.1zM584.17,231.64h1.1v1.1h-1.1zM587.31,231.64h1.1v1.1h-1.1zM590.44,231.64h1.1v1.1h-1.1zM593.58,231.64h1.1v1.1h-1.1zM596.72,231.64h1.1v1.1h-1.1zM596.72,228.86h1.1v1.1h-1.1zM599.86,228.86h1.1v1.1h-1.1zM602.99,228.86h1.1v1.1h-1.1zM606.13,228.86h1.1v1.1h-1.1zM609.27,228.86h1.1v1.1h-1.1zM609.27,226.08h1.1v1.1h-1.1zM612.4,226.08h1.1v1.1h-1.1zM615.54,226.08h1.1v1.1h-1.1zM615.54,223.3h1.1v1.1h-1.1zM618.68,223.3h1.1v1.1h-1.1zM621.82,223.3h1.1v1.1h-1.1zM624.95,223.3h1.1v1.1h-1.1zM628.09,223.3h1.1v1.1h-1.1zM631.23,223.3h1.1v1.1h-1.1zM634.37,223.3h1.1v1.1h-1.1zM634.37,220.51h1.1v1.1h-1.1zM637.5,220.51h1.1v1.1h-1.1zM640.64,220.51h1.1v1.1h-1.1zM640.64,217.73h1.1v1.1h-1.1zM643.78,217.73h1.1v1.1h-1.1zM646.91,217.73h1.1v1.1h-1.1zM650.05,217.73h1.1v1.1h-1.1zM653.19,217.73h1.1v1.1h-1.1zM653.19,214.95h1.1v1.1h-1.1zM656.33,214.95h1.1v1.1h-1.1zM659.46,214.95h1.1v1.1h-1.1zM662.6,214.95h1.1v1.1h-1.1zM665.74,214.95h1.1v1.1h-1.1zM668.88,214.95h1.1v1.1h-1.1zM672.01,214.95h1.1v1.1h-1.1zM675.15,214.95h1.1v1.1h-1.1z" fill="#CC4557"/><text x="583.2" y="317.9" class="auc">AUC at 36-month=0.718</text><text x="466.7" y="201.5" class="L">F</text></g>
</svg>
</body></html>
